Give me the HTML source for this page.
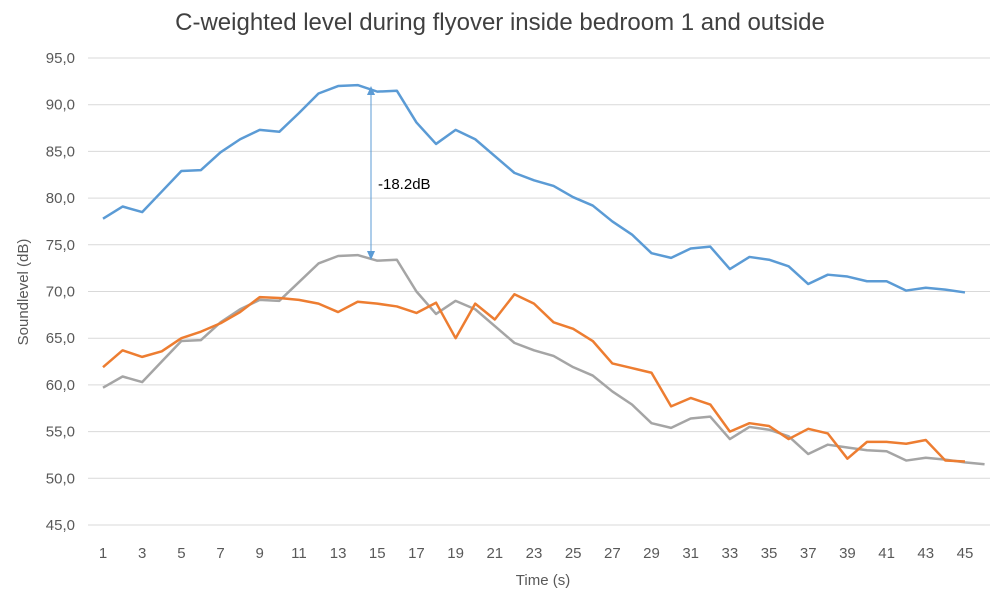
<!DOCTYPE html>
<html><head><meta charset="utf-8"><style>
body{margin:0;background:#fff;}
svg text{font-family:"Liberation Sans",sans-serif;fill:#595959;}
</style></head><body>
<svg id="c" width="1000" height="598" xmlns="http://www.w3.org/2000/svg">
<rect width="1000" height="598" fill="#fff"/>
<text x="500" y="30" text-anchor="middle" font-size="24" style="fill:#404040">C-weighted level during flyover inside bedroom 1 and outside</text>
<g id="grid"></g>
<g id="lab" font-size="15"></g>
<text x="543" y="585" text-anchor="middle" font-size="15">Time (s)</text>
<text transform="translate(28,292) rotate(-90)" text-anchor="middle" font-size="15">Soundlevel (dB)</text>
<g id="ser"></g>
<line x1="371" y1="90" x2="371" y2="256" stroke="#5b9bd5" stroke-width="1"/>
<polygon points="371,86 367,95 375,95" fill="#5b9bd5"/>
<polygon points="371,260 367,251 375,251" fill="#5b9bd5"/>
<text x="378" y="189" font-size="15" style="fill:#000">-18.2dB</text>
</svg>
<script>
var Y=v=>525-(v-45)*9.34, X=i=>103+(i-1)*19.59;
var g='',l='';
for(var v=45;v<=95;v+=5){var y=Y(v);g+='<line x1="88" x2="990" y1="'+y+'" y2="'+y+'" stroke="#d9d9d9"/>';l+='<text x="75" y="'+(y+5)+'" text-anchor="end">'+v+',0</text>';}
for(var i=1;i<=45;i+=2)l+='<text x="'+X(i)+'" y="558" text-anchor="middle">'+i+'</text>';
document.getElementById('grid').innerHTML=g;document.getElementById('lab').innerHTML=l;
var B=[77.8,79.1,78.5,80.7,82.9,83.0,84.9,86.3,87.3,87.1,89.1,91.2,92.0,92.1,91.4,91.5,88.1,85.8,87.3,86.3,84.5,82.7,81.9,81.3,80.1,79.2,77.5,76.1,74.1,73.6,74.6,74.8,72.4,73.7,73.4,72.7,70.8,71.8,71.6,71.1,71.1,70.1,70.4,70.2,69.9];
var O=[61.9,63.7,63.0,63.6,65.0,65.7,66.6,67.8,69.4,69.3,69.1,68.7,67.8,68.9,68.7,68.4,67.7,68.8,65.0,68.7,67.0,69.7,68.7,66.7,66.0,64.7,62.3,61.8,61.3,57.7,58.6,57.9,55.0,55.9,55.6,54.2,55.3,54.8,52.1,53.9,53.9,53.7,54.1,51.9,51.8];
var G=[59.7,60.9,60.3,62.5,64.7,64.8,66.7,68.1,69.1,69.0,71.0,73.0,73.8,73.9,73.3,73.4,70.0,67.6,69.0,68.1,66.3,64.5,63.7,63.1,61.9,61.0,59.3,57.9,55.9,55.4,56.4,56.6,54.2,55.5,55.2,54.5,52.6,53.6,53.3,53.0,52.9,51.9,52.2,52.0,51.7,51.5];
function pl(d,c){return '<polyline fill="none" stroke="'+c+'" stroke-width="2.5" stroke-linejoin="round" points="'+d.map((v,i)=>X(i+1)+','+Y(v)).join(' ')+'"/>';}
document.getElementById('ser').innerHTML=pl(B,'#5b9bd5')+pl(G,'#a5a5a5')+pl(O,'#ed7d31');
</script>
</body></html>
